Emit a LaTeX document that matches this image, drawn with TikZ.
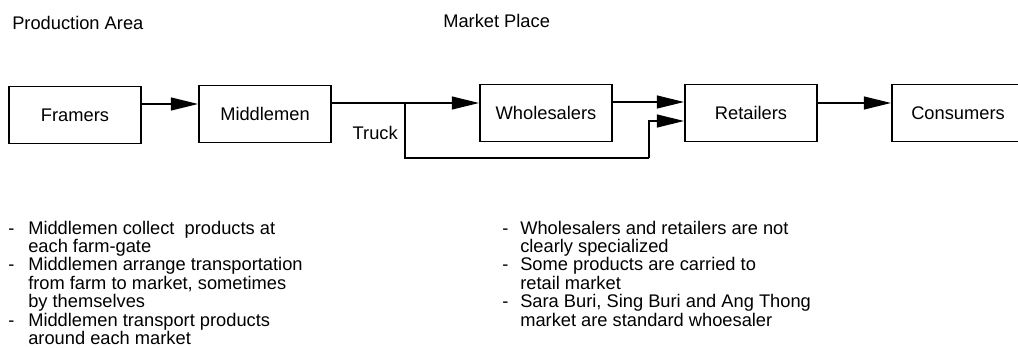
\documentclass[tikz,border=0pt]{standalone}
\usepackage{fontspec}
\setmainfont{Liberation Sans}
\usetikzlibrary{arrows.meta}

\begin{document}
\begin{tikzpicture}[x=0.025cm,y=-0.025cm,
    font=\fontsize{13}{13.2}\selectfont,
    box/.style={draw,line width=1.2pt,minimum width=3.3cm,minimum height=1.43cm,inner sep=0pt},
    flow/.style={line width=1.2pt,-{Triangle[length=6.8mm,width=3.2mm]}},
    note/.style={anchor=base west,inner sep=0pt,align=left,font=\fontsize{13}{12.4}\selectfont}]

% Page frame (1018 x 348 px)
\useasboundingbox (0,0) rectangle (1018,348);

% Geometry constants
\def\by{114}          % box centre row
\def\ty{158}          % truck return row

% Area headings
\node[anchor=west,inner sep=0pt] (prod) at (12,23) {Production Area};
\node[anchor=west,inner sep=0pt] (mkt) at (443,21) {Market Place};

% Chain of boxes
\node[box] (framers) at (75,\by+1) {Framers};
\node[box] (middle) at (265,\by) {Middlemen};
\node[box] (whole) at (546,\by-1) {Wholesalers};
\node[box] (retail) at (751,\by-1) {Retailers};
\node[box] (consum) at (958,\by-1) {Consumers};

% Arrows along the chain
\coordinate (f1) at (framers.east |- 0,104);
\draw[flow] (f1) -- (f1 -| middle.west);
\coordinate (m1) at (middle.east |- 0,103);
\draw[flow] (m1) -- (m1 -| whole.west);
\coordinate (w1) at (whole.east |- 0,102);
\draw[flow] (w1) -- (w1 -| retail.west);
\coordinate (r1) at (retail.east |- 0,103);
\draw[flow] (r1) -- (r1 -| consum.west);

% Truck by-pass to the retailers
\coordinate (fork) at (405,103);
\coordinate (bend) at (649,\ty);
\coordinate (rin) at (retail.west |- 0,121);
\draw[line width=1.2pt] (fork) |- (bend);
\draw[flow] (bend) |- (rin);
\node[anchor=east,inner sep=0pt] (truck) at (398,133) {Truck};

% Notes below
\node[note] (leftnote) at (8,234) {\begin{tabular}[t]{@{}p{0.5cm}@{}l@{}}
- & Middlemen collect~ products at\\
  & each farm-gate\\
- & Middlemen arrange transportation\\
  & from farm to market, sometimes\\
  & by themselves\\
- & Middlemen transport products\\
  & around each market
\end{tabular}};
\node[note] (rightnote) at (502,234) {\begin{tabular}[t]{@{}p{0.45cm}@{}l@{}}
- & Wholesalers and retailers are not\\
  & clearly specialized\\
- & Some products are carried to\\
  & retail market\\
- & Sara Buri, Sing Buri and Ang Thong\\
  & market are standard whoesaler
\end{tabular}};

\end{tikzpicture}
\end{document}
